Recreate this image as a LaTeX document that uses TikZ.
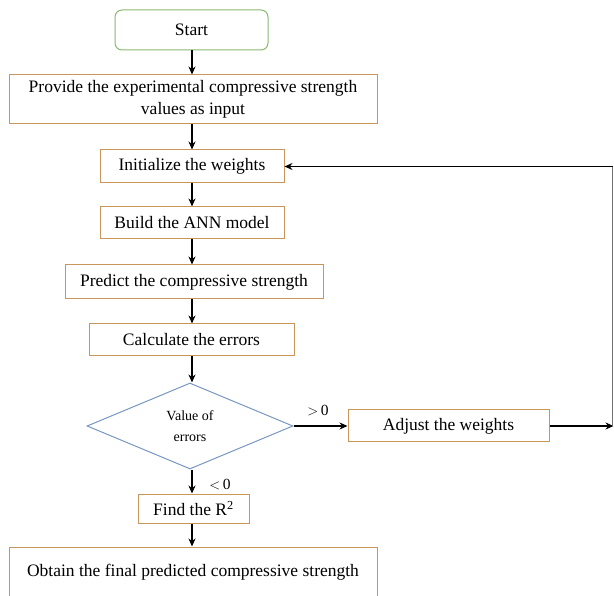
\documentclass[tikz,border=0pt]{standalone}
\usepackage{fontspec}
\setmainfont{Liberation Serif}
\usetikzlibrary{shapes.geometric,arrows.meta}
\definecolor{boxc}{RGB}{200,150,90}
\definecolor{startc}{RGB}{140,185,115}
\definecolor{diac}{RGB}{120,150,195}
\tikzset{
  x=1pt, y=1pt,
  box/.style={draw=boxc, line width=1pt, rectangle, inner sep=0pt, align=center,
    font=\fontsize{17.5}{21.5}\selectfont},
  startbox/.style={draw=startc, line width=1pt, rectangle, rounded corners=7pt, inner sep=0pt,
    font=\fontsize{17.5}{21.5}\selectfont},
  decbox/.style={draw=diac, line width=1pt, diamond, inner sep=0pt, align=center,
    font=\fontsize{14}{21}\selectfont},
  arr/.style={line width=1.6pt, -{Stealth[length=8pt,width=7pt]}},
  lbl/.style={font=\fontsize{15.5}{18}\selectfont, inner sep=0pt}
}
\begin{document}
\begin{tikzpicture}
\useasboundingbox (0,0) rectangle (614,-596);
\node[startbox, minimum width=153pt, minimum height=40pt] (start) at (191.5,-30) {Start};
\node[box, minimum width=368pt, minimum height=49pt] (provide) at (193,-99.5) {Provide the experimental compressive strength\\values as input};
\node[box, minimum width=184pt, minimum height=33pt] (init) at (192,-166.5) {Initialize the weights};
\node[box, minimum width=184pt, minimum height=32pt] (build) at (192,-223) {Build the ANN model};
\node[box, minimum width=258pt, minimum height=34pt] (predict) at (194,-282) {Predict the compressive strength};
\node[box, minimum width=205pt, minimum height=32pt] (calc) at (191.5,-340) {Calculate the errors};
\node[decbox, minimum width=206pt, minimum height=86pt] (dec) at (190,-426) {Value of\\errors};
\node[box, minimum width=201pt, minimum height=32pt] (adjust) at (448.5,-426) {Adjust the weights};
\node[box, minimum width=111pt, minimum height=29pt] (find) at (193.5,-508.5) {Find the R\textsuperscript{2}};
\node[box, minimum width=368pt, minimum height=50pt] (obtain) at (193,-572) {Obtain the final predicted compressive strength};

\coordinate (x0) at (192,0);
\draw[arr] (x0 |- start.south) -- (x0 |- provide.north);
\draw[arr] (x0 |- provide.south) -- (x0 |- init.north);
\draw[arr] (x0 |- init.south) -- (x0 |- build.north);
\draw[arr] (x0 |- build.south) -- (x0 |- predict.north);
\draw[arr] (x0 |- predict.south) -- (x0 |- calc.north);
\draw[arr] (x0 |- calc.south) -- (x0 |- dec.north);
\draw[arr] (x0 |- dec.south) -- (x0 |- find.north);
\draw[arr] (x0 |- find.south) -- (x0 |- obtain.north);
\draw[arr] (dec.east) -- (adjust.west);
\coordinate (r) at (613.5,-426);
\coordinate (c) at (612.5,-166.5);
\draw[arr] (adjust.east) -- (r);
\draw[line width=0.8pt, black!55] (c |- r) -- (c);
\draw[arr] (c) -- (init.east);
\node[lbl] (gt) at (318,-411) {$>$\,0};
\node[lbl] (lt) at (220,-485) {$<$\,0};
\end{tikzpicture}
\end{document}
